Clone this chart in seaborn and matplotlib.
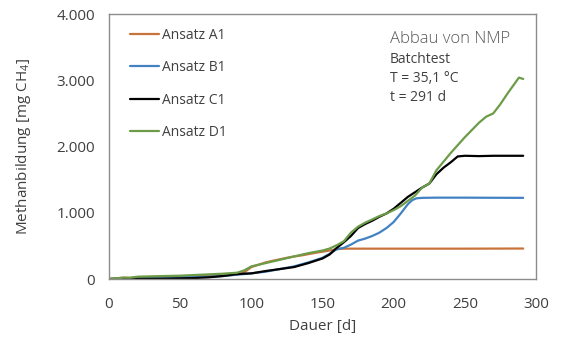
import matplotlib
matplotlib.use("Agg")
import matplotlib.pyplot as plt
import seaborn as sns
import pandas as pd
from matplotlib.ticker import FuncFormatter

# ---- data ----
days_a = [0, 5, 10, 15, 20, 30, 40, 50, 60, 70, 80, 90, 95, 100, 105, 110, 115, 120, 125, 130, 135, 140, 145, 150, 155, 160, 165, 170, 200, 250, 291]
vals_a = [0, 10, 20, 15, 25, 30, 35, 40, 45, 50, 55, 65, 100, 180, 215, 250, 275, 297, 320, 340, 355, 375, 395, 412, 430, 450, 458, 458, 458, 458, 460]

days_b = [0, 10, 20, 30, 40, 50, 60, 70, 80, 90, 100, 110, 120, 130, 140, 150, 155, 160, 165, 170, 175, 180, 185, 190, 195, 200, 205, 210, 213, 216, 220, 230, 250, 270, 291]
vals_b = [0, 5, 15, 20, 25, 30, 30, 35, 45, 65, 85, 110, 150, 190, 250, 320, 380, 450, 470, 520, 580, 610, 650, 700, 770, 860, 990, 1130, 1190, 1218, 1225, 1228, 1228, 1226, 1225]

days_c = [0, 10, 20, 30, 40, 50, 60, 70, 80, 90, 95, 100, 110, 120, 130, 140, 150, 155, 160, 165, 170, 175, 180, 185, 190, 195, 200, 205, 210, 215, 220, 225, 230, 235, 240, 245, 250, 260, 270, 280, 291]
vals_c = [0, 5, 5, 5, 5, 10, 15, 25, 45, 75, 80, 85, 120, 150, 180, 240, 310, 370, 470, 555, 650, 770, 830, 880, 940, 990, 1060, 1150, 1240, 1310, 1380, 1440, 1580, 1680, 1760, 1850, 1860, 1855, 1860, 1860, 1860]

days_d = [0, 5, 10, 15, 20, 30, 40, 50, 60, 70, 80, 90, 95, 100, 110, 120, 130, 140, 150, 155, 160, 165, 170, 175, 180, 185, 190, 195, 200, 205, 210, 215, 220, 225, 230, 240, 250, 260, 265, 270, 275, 280, 285, 288, 291]
vals_d = [0, 10, 20, 20, 35, 40, 45, 50, 60, 70, 80, 95, 130, 190, 240, 290, 340, 390, 430, 460, 510, 570, 700, 790, 850, 900, 950, 990, 1040, 1100, 1180, 1260, 1380, 1440, 1640, 1900, 2140, 2360, 2450, 2500, 2640, 2800, 2950, 3040, 3020]

series_names = ["Ansatz A1", "Ansatz B1", "Ansatz C1", "Ansatz D1"]
colors = ["#C8733A", "#4382C2", "#000000", "#6C9C48"]

x_ticks = [0, 50, 100, 150, 200, 250, 300]
y_ticks = [0, 1000, 2000, 3000, 4000]

frames = []
for name, d, v in zip(series_names, [days_a, days_b, days_c, days_d], [vals_a, vals_b, vals_c, vals_d]):
    frames.append(pd.DataFrame({"Dauer": d, "Wert": v, "Serie": name}))
df = pd.concat(frames, ignore_index=True)

# ---- style ----
sns.set_style("white")
plt.rcParams["font.family"] = ["Open Sans", "DejaVu Sans"]
plt.rcParams["mathtext.fontset"] = "custom"
plt.rcParams["mathtext.rm"] = "Open Sans"
plt.rcParams["mathtext.it"] = "Open Sans"

fig = plt.figure(figsize=(5.71, 3.45), dpi=100)
ax = fig.add_axes([0.1909, 0.1913, 0.7478, 0.7681])

sns.lineplot(data=df, x="Dauer", y="Wert", hue="Serie", palette=dict(zip(series_names, colors)),
             hue_order=series_names, linewidth=1.6, ax=ax, estimator=None, sort=False)

ax.set_xlim(0, 300)
ax.set_ylim(0, 4000)
ax.set_xticks(x_ticks)
ax.set_yticks(y_ticks)
ax.yaxis.set_major_formatter(FuncFormatter(lambda v, p: f"{int(v):,}".replace(",", ".")))

txtcol = "#404040"
spcol = "#8C8C8C"
for s in ax.spines.values():
    s.set_color(spcol)
    s.set_linewidth(1.0)
ax.tick_params(axis="both", which="major", direction="out", length=4, width=1, color=spcol,
               labelsize=11, labelcolor=txtcol)
ax.tick_params(axis="y", pad=6)
ax.tick_params(axis="x", pad=9)

ax.set_xlabel("Dauer [d]", fontsize=11, color=txtcol, labelpad=5)
ax.set_ylabel("Methanbildung [mg CH$_4$]", fontsize=11, color=txtcol, labelpad=17)

leg = ax.legend(loc="upper left", bbox_to_anchor=(0.049, 0.948), frameon=False, fontsize=10,
                handlelength=2.1, handletextpad=0.2, labelspacing=1.25, borderpad=0, borderaxespad=0)
for t in leg.get_texts():
    t.set_color(txtcol)

ax.text(0.658, 0.905, "Abbau von NMP", transform=ax.transAxes, fontsize=12, color="#595959",
        fontweight="light", va="center", ha="left")
ax.text(0.658, 0.828, "Batchtest", transform=ax.transAxes, fontsize=10, color=txtcol, va="center", ha="left")
ax.text(0.658, 0.757, "T = 35,1 °C", transform=ax.transAxes, fontsize=10, color=txtcol, va="center", ha="left")
ax.text(0.658, 0.685, "t = 291 d", transform=ax.transAxes, fontsize=10, color=txtcol, va="center", ha="left")

fig.savefig("out.png", dpi=100)
